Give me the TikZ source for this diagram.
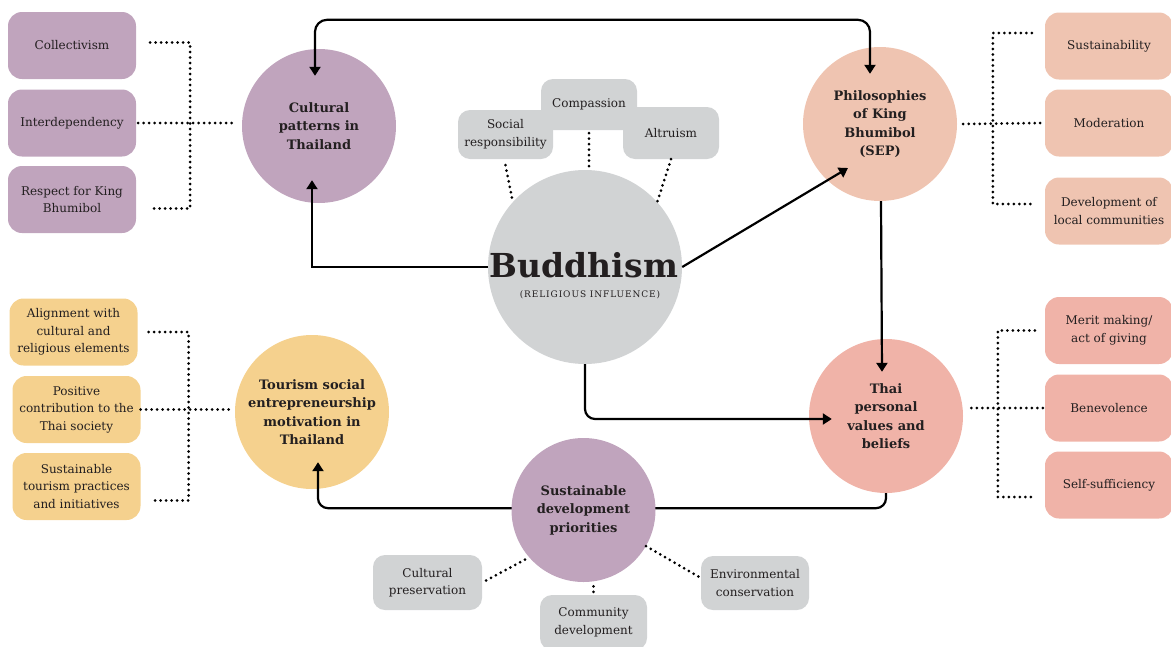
\documentclass[tikz,border=0pt]{standalone}
\usepackage{fontspec}
\setmainfont{DejaVu Serif}
\usetikzlibrary{arrows.meta}

\definecolor{mauve}{RGB}{192,164,189}
\definecolor{stone}{RGB}{209,211,212}
\definecolor{peach}{RGB}{239,196,177}
\definecolor{blush}{RGB}{240,179,168}
\definecolor{sand}{RGB}{245,209,142}
\definecolor{ink}{RGB}{35,31,32}

\tikzset{
  >={Triangle[width=11pt,length=9pt]},
  hub/.style={circle, minimum size=154pt, inner sep=0pt, align=center, text=ink,
    font=\fontsize{13}{18.5}\selectfont\bfseries},
  tag/.style={rounded corners=14pt, minimum width=128pt, minimum height=67pt, inner sep=0pt,
    align=center, text=ink, font=\fontsize{12}{17.5}\selectfont},
  chip/.style={tag, fill=stone, rounded corners=12pt, minimum height=52pt},
  link/.style={line width=2.2pt, draw=black},
  dots/.style={line width=3pt, line cap=round, dash pattern=on 0pt off 5.5pt},
}

\begin{document}
\begin{tikzpicture}[x=1pt, y=-1pt]
  \useasboundingbox (0,0) rectangle (1171,646);

  % centre
  \node[circle, fill=stone, minimum size=194pt, inner sep=0pt] (bud) at (585,267) {};
  \node[text=ink, font=\fontsize{33}{36}\selectfont\bfseries] (budtitle) at (584,265) {Buddhism};
  \node[text=ink, anchor=base, font=\fontsize{9}{10}\selectfont\addfontfeature{LetterSpace=10}] (budsub) at (590,297) {(RELIGIOUS INFLUENCE)};

  \node[chip, minimum width=96pt, minimum height=51pt] (compas) at (589,104.5) {Compassion};
  \node[chip, minimum width=95pt, minimum height=49pt] (socresp) at (505.5,134.5) {Social\\responsibility};
  \node[chip, minimum width=96pt] (altru) at (671,133) {Altruism};

  % main circles
  \node[hub, fill=mauve] (cult) at (319,126) {Cultural\\patterns in\\Thailand};
  \node[hub, fill=peach] (sep) at (880,124) {Philosophies\\of King\\Bhumibol\\(SEP)};
  \node[hub, fill=blush] (thai) at (886,416) {Thai\\personal\\values and\\beliefs};
  \node[hub, fill=sand] (tour) at (312,412) {Tourism social\\entrepreneurship\\motivation in\\Thailand};

  % side boxes
  \node[tag, fill=mauve] (collect) at (72,45.5) {Collectivism};
  \node[tag, fill=mauve] (interdep) at (72,123) {Interdependency};
  \node[tag, fill=mauve] (respect) at (72,199.5) {Respect for King\\Bhumibol};

  \node[tag, fill=peach] (sustain) at (1109,46) {Sustainability};
  \node[tag, fill=peach] (moder) at (1109,123) {Moderation};
  \node[tag, fill=peach] (devcom) at (1109,211) {Development of\\local communities};

  \node[tag, fill=blush] (merit) at (1109,330.5) {Merit making/\\act of giving};
  \node[tag, fill=blush] (benev) at (1109,408) {Benevolence};
  \node[tag, fill=blush] (selfsuf) at (1109,485) {Self-sufficiency};

  \node[tag, fill=sand] (align) at (73.5,332) {Alignment with\\cultural and\\religious elements};
  \node[tag, fill=sand] (posit) at (76.5,409.5) {Positive\\contribution to the\\Thai society};
  \node[tag, fill=sand] (sustour) at (76.5,486.5) {Sustainable\\tourism practices\\and initiatives};

  % arrows
  \draw[link, <->, rounded corners=12pt] ([xshift=-4pt,yshift=-27pt]cult.north) -- ++(0,-56)
    -| ([xshift=-10pt,yshift=-27pt]sep.north);
  \draw[link, ->] (bud.west) -| ([xshift=-7pt,yshift=23pt]cult.south);
  \draw[link, ->] (bud.east) -- ([xshift=-32pt,yshift=-44pt]sep.center);
  \draw[link, ->] ([xshift=1pt]sep.south) -- ([xshift=-4pt,yshift=-33pt]thai.north);
  \draw[link, ->, rounded corners=10pt] (bud.south) |- ([xshift=23pt,yshift=-3pt]thai.west);
  \draw[link, ->, rounded corners=10pt] (thai.south) -- ++(0,15) -| ([xshift=6pt,yshift=27pt]tour.south);

  \node[hub, fill=mauve, minimum size=144pt] (sdp) at (583.5,510) {Sustainable\\development\\priorities};
  \node[chip, minimum width=109pt, minimum height=55pt] (culpres) at (427.5,582.5) {Cultural\\preservation};
  \node[chip, minimum width=107pt, minimum height=55pt] (comdev) at (593.5,622.5) {Community\\development};
  \node[chip, minimum width=108pt, minimum height=54pt] (envcons) at (755,583) {Environmental\\conservation};

  % dotted brackets
  \draw[dots] ([xshift=14pt,yshift=3pt]collect.east) -- ++(40,0) |- ([xshift=17pt,yshift=-9pt]respect.east);
  \draw[dots] ([xshift=2pt]interdep.east) -- ([xshift=-5pt]interdep.east -| cult.west);

  \draw[dots] ([xshift=-13pt,yshift=13pt]sustain.west) -- ++(-39,0) |- ([xshift=-13pt,yshift=7pt]devcom.west);
  \draw[dots] ([xshift=6pt]sep.east) -- ([xshift=-2pt]moder.west);

  \draw[dots] ([xshift=-10pt]merit.west) -- ++(-37,0) |- ([xshift=-10pt,yshift=-12pt]selfsuf.west);
  \draw[dots] ([xshift=-2pt]benev.west) -- ([xshift=5pt]benev.west -| thai.east);

  \draw[dots] ([xshift=11pt]align.east) -- ++(40,0) |- ([xshift=11pt,yshift=-14pt]sustour.east);
  \draw[dots] (posit.east) -- ([xshift=-5pt]posit.east -| tour.west);

  \draw[dots] ([yshift=-6pt]socresp.south) -- (bud.138);
  \draw[dots] ([yshift=-3pt]compas.south) -- (compas.south |- bud.north);
  \draw[dots] (altru.south) -- (bud.42);

  \draw[dots] ([xshift=4pt,yshift=2pt]culpres.east) -- (sdp.221);
  \draw[dots] ([yshift=3pt]comdev.north) -- (comdev.north |- sdp.south);
  \draw[dots] (sdp.330) -- ([yshift=5pt]envcons.west);
\end{tikzpicture}
\end{document}
